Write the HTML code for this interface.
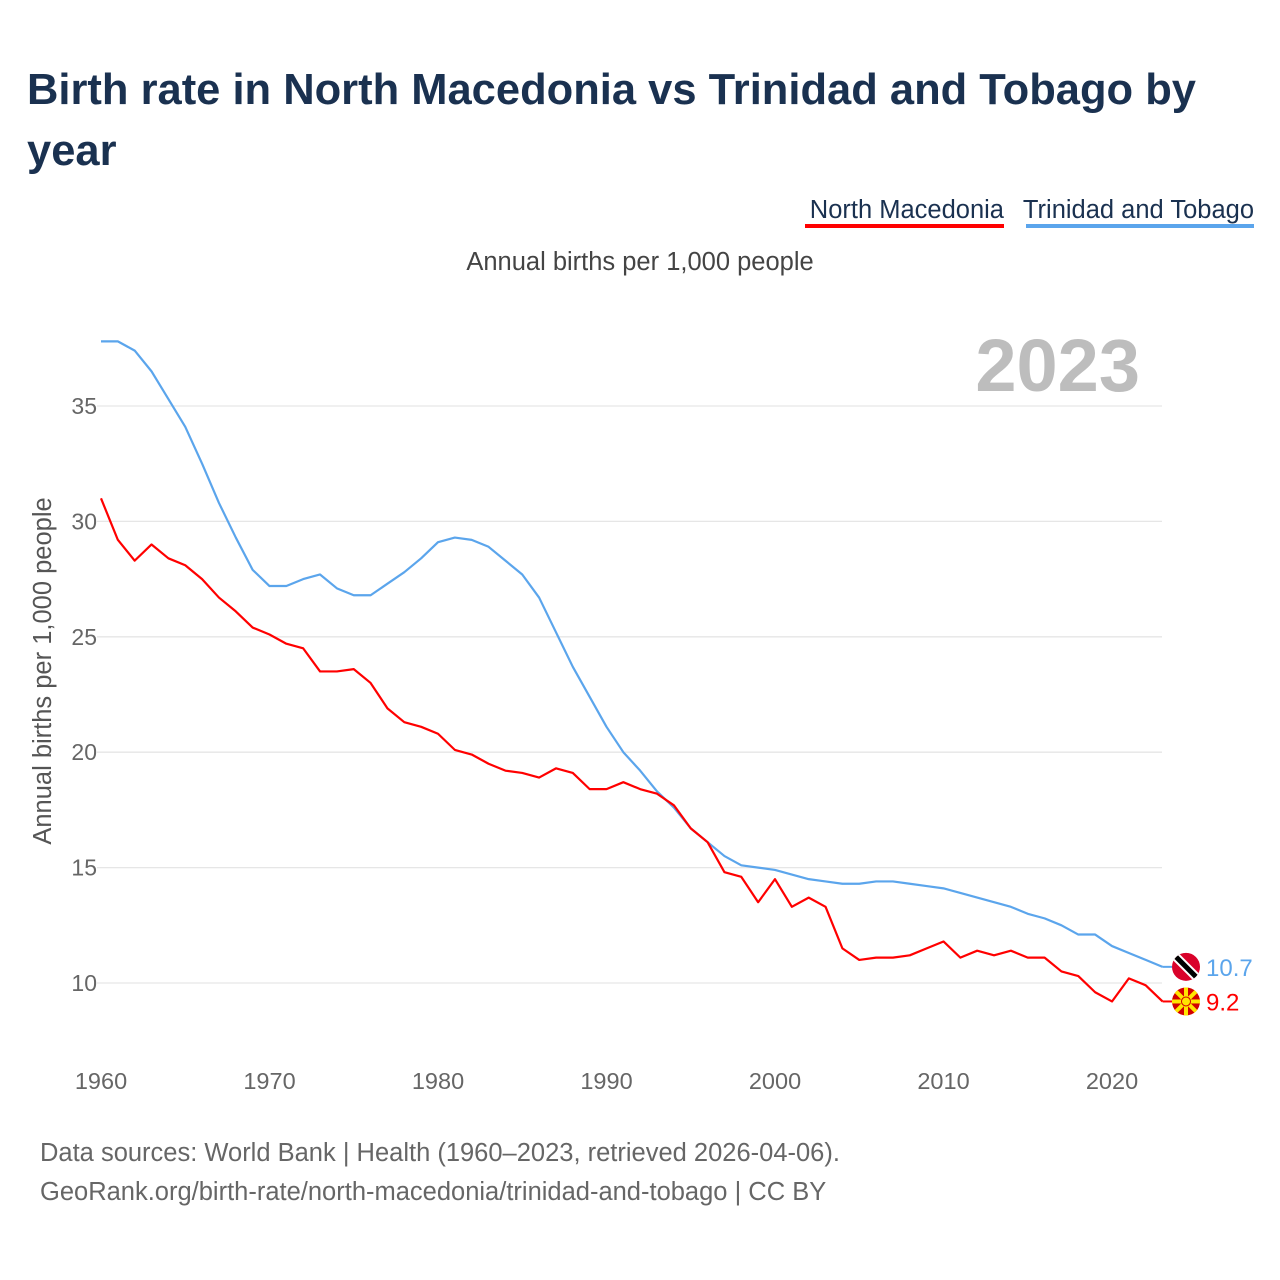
<!DOCTYPE html>
<html><head><meta charset="utf-8"><style>
body{margin:0;background:#fff;font-family:"Liberation Sans",sans-serif;}
#wrap{position:relative;width:1280px;height:1280px;overflow:hidden;}
</style></head><body>
<div id="wrap">
<svg id="chart" width="1280" height="1280">
<text x="27" y="104" font-size="43.5" font-weight="bold" fill="#1a3150">Birth rate in North Macedonia vs Trinidad and Tobago by</text>
<text x="27" y="165" font-size="43.5" font-weight="bold" fill="#1a3150">year</text>
<g>
<text x="1004" y="218" font-size="25.5" fill="#1a3150" text-anchor="end">North Macedonia</text>
<rect x="805" y="224" width="199" height="4" fill="#ff0000"/></g>
<g>
<text x="1254" y="218" font-size="25.5" fill="#1a3150" text-anchor="end">Trinidad and Tobago</text>
<rect x="1026" y="224" width="228" height="4" fill="#5ba5ec"/></g>
<text x="640" y="270" font-size="25.5" fill="#444" text-anchor="middle">Annual births per 1,000 people</text>
<text x="1140" y="391" font-size="74" font-weight="bold" fill="#bdbdbd" text-anchor="end">2023</text>
<text transform="translate(51,671) rotate(-90)" font-size="25.5" fill="#555" text-anchor="middle">Annual births per 1,000 people</text>
<g id="grid"></g><g id="series"></g><g id="ends"></g>
<text x="40" y="1161" font-size="25.5" fill="#666">Data sources: World Bank | Health (1960–2023, retrieved 2026-04-06).</text>
<text x="40" y="1200" font-size="25.5" fill="#666">GeoRank.org/birth-rate/north-macedonia/trinidad-and-tobago | CC BY</text>
</svg></div>
<script>
const years=[];for(let y=1960;y<=2023;y++)years.push(y);
const tt=[37.8,37.8,37.4,36.5,35.3,34.1,32.5,30.8,29.3,27.9,27.2,27.2,27.5,27.7,27.1,26.8,26.8,27.3,27.8,28.4,29.1,29.3,29.2,28.9,28.3,27.7,26.7,25.2,23.7,22.4,21.1,20.0,19.2,18.3,17.6,16.7,16.1,15.5,15.1,15.0,14.9,14.7,14.5,14.4,14.3,14.3,14.4,14.4,14.3,14.2,14.1,13.9,13.7,13.5,13.3,13.0,12.8,12.5,12.1,12.1,11.6,11.3,11.0,10.7];
const nm=[31.0,29.2,28.3,29.0,28.4,28.1,27.5,26.7,26.1,25.4,25.1,24.7,24.5,23.5,23.5,23.6,23.0,21.9,21.3,21.1,20.8,20.1,19.9,19.5,19.2,19.1,18.9,19.3,19.1,18.4,18.4,18.7,18.4,18.2,17.7,16.7,16.1,14.8,14.6,13.5,14.5,13.3,13.7,13.3,11.5,11.0,11.1,11.1,11.2,11.5,11.8,11.1,11.4,11.2,11.4,11.1,11.1,10.5,10.3,9.6,9.2,10.2,9.9,9.2];
const yTicks=[10,15,20,25,30,35];
const xTicks=[1960,1970,1980,1990,2000,2010,2020];
const X=y=>101+(y-1960)*16.85, Y=v=>983-(v-10)*23.08;
const ns="http://www.w3.org/2000/svg";
function mk(p,t,a){const e=document.createElementNS(ns,t);for(const k in a)e.setAttribute(k,a[k]);p.appendChild(e);return e;}
const g=document.getElementById('grid');
yTicks.forEach(v=>{const l=mk(g,'line',{x1:97,x2:1162,y1:Y(v),y2:Y(v),stroke:'#e6e6e6','stroke-width':1.3});


const t=mk(g,'text',{x:97,y:Y(v)+8,'font-size':23,fill:'#666','text-anchor':'end'});t.textContent=v;

});
xTicks.forEach(v=>{const t=mk(g,'text',{x:X(v),y:1089,'font-size':23.5,fill:'#666','text-anchor':'middle'});t.textContent=v;

});
const s=document.getElementById('series');
[[tt,'#5ba5ec','line-trinidad-and-tobago'],[nm,'#ff0000','line-north-macedonia']].forEach(([d,c,n])=>{
const p=mk(s,'polyline',{points:d.map((v,i)=>X(years[i])+','+Y(v)).join(' '),fill:'none',stroke:c,'stroke-width':2.2,'stroke-linejoin':'round'});


const last=d[d.length-1];
mk(s,'line',{x1:X(2023),x2:1172,y1:Y(last),y2:Y(last),stroke:c,'stroke-width':2});});
const e=document.getElementById('ends');
const tl=tt[tt.length-1], nl=nm[nm.length-1];
const ty=Y(tl), ny=Y(nl);
let fg=mk(e,'g',{});


mk(fg,'clipPath',{id:'c1'}).appendChild(document.createElementNS(ns,'circle'));
const c1=document.querySelector('#c1 circle');c1.setAttribute('cx',1186);c1.setAttribute('cy',ty);c1.setAttribute('r',14);
mk(fg,'circle',{cx:1186,cy:ty,r:14,fill:'#d9022a'});
mk(fg,'line',{x1:1172,y1:ty-14,x2:1200,y2:ty+14,stroke:'#fff','stroke-width':9,'clip-path':'url(#c1)'});
mk(fg,'line',{x1:1172,y1:ty-14,x2:1200,y2:ty+14,stroke:'#000','stroke-width':5,'clip-path':'url(#c1)'});
let t1=mk(e,'text',{x:1206,y:ty+9,'font-size':24,fill:'#5ba5ec'});t1.textContent=tl.toFixed(1);


let fm=mk(e,'g',{});


mk(fm,'circle',{cx:1186,cy:ny,r:14,fill:'#d20000'});
for(let k=0;k<8;k++){const a=k*Math.PI/4;mk(fm,'line',{x1:1186,y1:ny,x2:1186+14*Math.cos(a),y2:ny+14*Math.sin(a),stroke:'#ffe600','stroke-width':4});}
mk(fm,'circle',{cx:1186,cy:ny,r:4.5,fill:'#ffe600',stroke:'#d20000','stroke-width':1});
let t2=mk(e,'text',{x:1206,y:ny+9,'font-size':24,fill:'#ff0000'});t2.textContent=nl.toFixed(1);


</script></body></html>
